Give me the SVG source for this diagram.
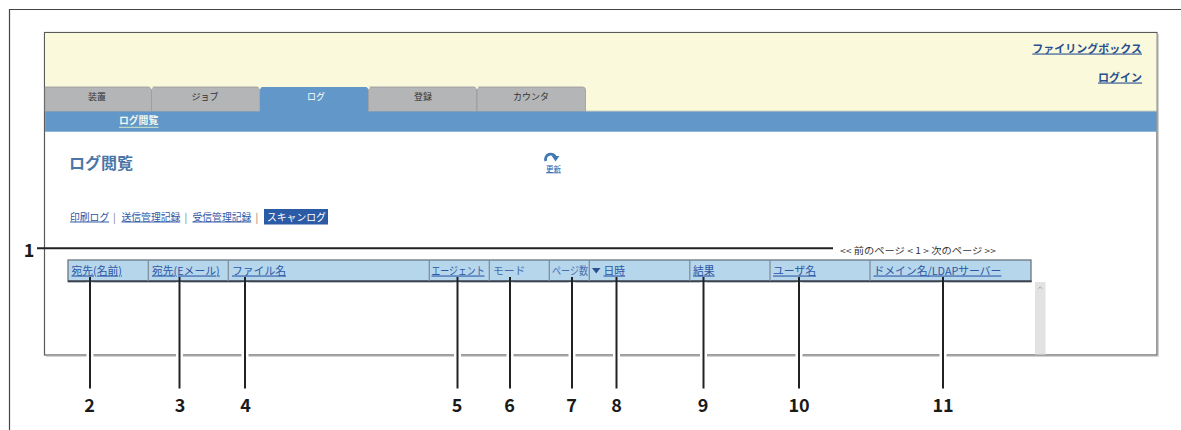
<svg xmlns="http://www.w3.org/2000/svg" width="1181" height="430" viewBox="0 0 1181 430">
<style>
  text{font-family:"Noto Sans CJK JP","Noto Sans",sans-serif}
  .tab{fill:#b4b5b6;stroke:#9a9b9c;stroke-width:0.8}
  .tabt{font-size:9px;fill:#333;text-anchor:middle}
  .link{fill:#2c56a6;text-decoration:underline}
  .hdr{font-size:10.8px}
  .plain{fill:#4a6fae}
  .sep{stroke:#7d8994;stroke-width:1.2}
  .num{font-weight:bold;font-size:18px;fill:#1a1a1a;text-anchor:middle}
  .lead{stroke:#222;stroke-width:2;fill:none}
  .halo{stroke:#fff;stroke-width:7;fill:none}
  .notch{fill:#faf9dc}
</style>

<g id="outer-frame">
  <path d="M9.5,430 V9.5 H1181" fill="none" stroke="#444" stroke-width="1.2"/>
</g>

<g id="window">
  <rect x="44.5" y="32.5" width="1112.5" height="322.5" fill="#fff" stroke="#5a5a5a" stroke-width="1.2"/>
  <path d="M46,356.3 H1158.3 V34" fill="none" stroke="#c8c8c8" stroke-width="1"/>
  <rect x="45.1" y="33.1" width="1111.3" height="78.4" fill="#faf9dc"/>
  <line x1="585.5" y1="111.2" x2="1156.4" y2="111.2" stroke="#b9b9a8" stroke-width="1"/>
</g>

<g id="tabs">
  <g id="tab-device">
    <path class="tab" d="M45.1,111.5 V87 H148.5 Q151.5,87 151.5,90 V111.5 Z"/>
    <text class="tabt" x="97" y="100">装置</text>
  </g>
  <g id="tab-job">
    <path class="tab" d="M151.5,111.5 V87 H257 Q260,87 260,90 V111.5 Z"/>
    <text class="tabt" x="205" y="100">ジョブ</text>
  </g>
  <g id="tab-log">
    <path d="M260,112 V87 H365.5 Q368.5,87 368.5,90 V112 Z" fill="#6298c9"/>
    <text class="tabt" x="316" y="100" style="fill:#fff">ログ</text>
  </g>
  <g id="tab-register">
    <path class="tab" d="M368.5,111.5 V87 H474 Q477,87 477,90 V111.5 Z"/>
    <text class="tabt" x="423" y="100">登録</text>
  </g>
  <g id="tab-counter">
    <path class="tab" d="M477,111.5 V87 H582.5 Q585.5,87 585.5,90 V111.5 Z"/>
    <text class="tabt" x="531" y="100">カウンタ</text>
  </g>
  <path class="notch" d="M149.5,86.5 L153.5,86.5 L151.5,89.5 Z"/>
  <path class="notch" d="M258,86.5 L262,86.5 L260,89.5 Z"/>
  <path class="notch" d="M366.5,86.5 L370.5,86.5 L368.5,89.5 Z"/>
  <path class="notch" d="M475,86.5 L479,86.5 L477,89.5 Z"/>
</g>

<g id="subnav-bar">
  <rect x="45.1" y="111.5" width="1111.3" height="20.2" fill="#6298c9"/>
  <text x="119" y="124.3" font-size="9.8" font-weight="bold" fill="#f2f8ee">ログ閲覧</text>
  <line x1="119" y1="127.3" x2="158.5" y2="127.3" stroke="#cfe8c8" stroke-width="1"/>
</g>

<g id="top-links">
  <text class="link" x="1142" y="52.5" font-size="11" font-weight="bold" text-anchor="end" style="fill:#284f8e">ファイリングボックス</text>
  <text class="link" x="1142" y="81.5" font-size="11" font-weight="bold" text-anchor="end" style="fill:#284f8e">ログイン</text>
</g>

<g id="page-title">
  <text x="69" y="168.5" font-size="16" font-weight="bold" fill="#4b76a6">ログ閲覧</text>
</g>

<g id="refresh">
  <path d="M545.8,161 A5.2,5.2 0 1 1 555.6,157.5" fill="none" stroke="#3f78b3" stroke-width="2.8"/>
  <path d="M551.8,156 L559.4,156 L555.6,161.5 Z" fill="#3f78b3"/>
  <text class="link" x="553.5" y="171.5" font-size="7.5" text-anchor="middle" style="fill:#2c56a6">更新</text>
</g>

<g id="log-links">
  <text class="link" x="70" y="220.5" font-size="9.8">印刷ログ</text>
  <text x="113" y="220.5" font-size="10" fill="#777">|</text>
  <text class="link" x="121.5" y="220.5" font-size="9.8">送信管理記録</text>
  <text x="184.5" y="220.5" font-size="10" fill="#777">|</text>
  <text class="link" x="192.5" y="220.5" font-size="9.8">受信管理記録</text>
  <text x="255.5" y="220.5" font-size="10" fill="#777">|</text>
  <rect x="264" y="209" width="64" height="15.5" fill="#2b5ba6"/>
  <text x="267" y="220.5" font-size="9.8" fill="#fff">スキャンログ</text>
</g>

<g id="pagination">
  <text x="840" y="253.5" font-size="9" fill="#333" textLength="156" lengthAdjust="spacingAndGlyphs">&lt;&lt; 前のページ &lt; 1 &gt; 次のページ &gt;&gt;</text>
</g>

<g id="table-header">
  <rect x="68" y="260" width="963" height="21.5" fill="#b6d6eb" stroke="#6b7580" stroke-width="1.3"/>
  <line x1="68" y1="281.3" x2="1031.6" y2="281.3" stroke="#3a4450" stroke-width="2"/>
  <line class="sep" x1="148.3" y1="260" x2="148.3" y2="281"/>
  <line class="sep" x1="228.3" y1="260" x2="228.3" y2="281"/>
  <line class="sep" x1="429.3" y1="260" x2="429.3" y2="281"/>
  <line class="sep" x1="489.3" y1="260" x2="489.3" y2="281"/>
  <line class="sep" x1="549.3" y1="260" x2="549.3" y2="281"/>
  <line class="sep" x1="589.3" y1="260" x2="589.3" y2="281"/>
  <line class="sep" x1="689.8" y1="260" x2="689.8" y2="281"/>
  <line class="sep" x1="770" y1="260" x2="770" y2="281"/>
  <line class="sep" x1="870" y1="260" x2="870" y2="281"/>
  <text class="hdr link" x="71.5" y="274.5">宛先(名前)</text>
  <text class="hdr link" x="152" y="274.5">宛先(Eメール)</text>
  <text class="hdr link" x="232" y="274.5">ファイル名</text>
  <text class="hdr link" x="431.5" y="274.5" textLength="53" lengthAdjust="spacingAndGlyphs">エージェント</text>
  <text class="hdr plain" x="493" y="274.5">モード</text>
  <text class="hdr plain" x="552" y="274.5" textLength="36" lengthAdjust="spacingAndGlyphs">ページ数</text>
  <path d="M592,268 L600.5,268 L596.2,273.5 Z" fill="#2b4f8f"/>
  <text class="hdr link" x="603.5" y="274.5">日時</text>
  <text class="hdr link" x="693" y="274.5">結果</text>
  <text class="hdr link" x="773" y="274.5">ユーザ名</text>
  <text class="hdr link" x="873.5" y="274.5">ドメイン名/LDAPサーバー</text>
</g>

<g id="scrollbar">
  <rect x="1035" y="282" width="10.5" height="72.5" fill="#e1e2e1"/>
  <path d="M1038.3,288.8 L1040.2,286.8 L1042.1,288.8" fill="none" stroke="#9a9a9a" stroke-width="0.8"/>
</g>

<g id="connectors">
  <line class="lead" x1="37" y1="248.3" x2="833" y2="248.3"/>
  <g id="halos">
    <line class="halo" x1="90" y1="282.5" x2="90" y2="357"/>
    <line class="halo" x1="179.5" y1="282.5" x2="179.5" y2="357"/>
    <line class="halo" x1="245" y1="282.5" x2="245" y2="357"/>
    <line class="halo" x1="457.5" y1="282.5" x2="457.5" y2="357"/>
    <line class="halo" x1="510" y1="282.5" x2="510" y2="357"/>
    <line class="halo" x1="572" y1="282.5" x2="572" y2="357"/>
    <line class="halo" x1="616.5" y1="282.5" x2="616.5" y2="357"/>
    <line class="halo" x1="703.5" y1="282.5" x2="703.5" y2="357"/>
    <line class="halo" x1="799" y1="282.5" x2="799" y2="357"/>
    <line class="halo" x1="943" y1="282.5" x2="943" y2="357"/>
  </g>
  <line class="lead" x1="90" y1="277" x2="90" y2="388.5"/>
  <line class="lead" x1="179.5" y1="277" x2="179.5" y2="388.5"/>
  <line class="lead" x1="245" y1="277" x2="245" y2="388.5"/>
  <line class="lead" x1="457.5" y1="277" x2="457.5" y2="388.5"/>
  <line class="lead" x1="510" y1="277" x2="510" y2="388.5"/>
  <line class="lead" x1="572" y1="277" x2="572" y2="388.5"/>
  <line class="lead" x1="616.5" y1="277" x2="616.5" y2="388.5"/>
  <line class="lead" x1="703.5" y1="277" x2="703.5" y2="388.5"/>
  <line class="lead" x1="799" y1="277" x2="799" y2="388.5"/>
  <line class="lead" x1="943" y1="277" x2="943" y2="388.5"/>
</g>

<g id="callout-numbers">
  <text class="num" x="29" y="257">1</text>
  <text class="num" x="89.5" y="412">2</text>
  <text class="num" x="180" y="412">3</text>
  <text class="num" x="245.5" y="412">4</text>
  <text class="num" x="457" y="412">5</text>
  <text class="num" x="509.5" y="412">6</text>
  <text class="num" x="571.5" y="412">7</text>
  <text class="num" x="616.5" y="412">8</text>
  <text class="num" x="703" y="412">9</text>
  <text class="num" x="799" y="412">10</text>
  <text class="num" x="943" y="412">11</text>
</g>
</svg>
